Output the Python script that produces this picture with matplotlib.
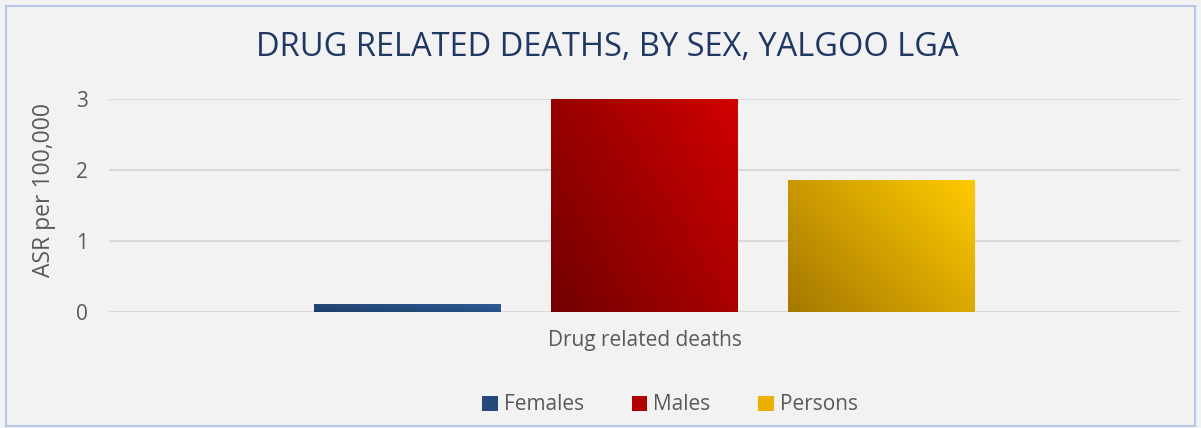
import numpy as np
import matplotlib
matplotlib.use('Agg')
import matplotlib.pyplot as plt
from matplotlib.patches import Rectangle, Patch
from matplotlib.colors import LinearSegmentedColormap

plt.rcParams['font.family'] = ['Open Sans', 'DejaVu Sans']

# data
category = 'Drug related deaths'
series = ['Females', 'Males', 'Persons']
values = [0.1, 3.0, 1.85]
yticks = [0, 1, 2, 3]

# gradient colours (dark bottom-left -> light top-right)
grad = {
    'Females': ('#1E3E68', '#2D5C96'),
    'Males': ('#720000', '#D00000'),
    'Persons': ('#A67800', '#FFCA00'),
}
legend_col = {'Females': '#25497A', 'Males': '#B00000', 'Persons': '#EBB000'}

bg = '#F2F2F2'
fig = plt.figure(figsize=(12.01, 4.28), dpi=100, facecolor=bg)
fig.patches.append(Rectangle((0.005, 0.005), 0.99, 0.98, transform=fig.transFigure,
                             fill=False, edgecolor='#B4C7E7', linewidth=1.5))

ax = fig.add_axes([109 / 1201, 1 - 312 / 428, 1071 / 1201, 213 / 428])
ax.set_facecolor(bg)

width = 0.1746
step = 0.2213
xs = (np.arange(len(series)) - 1) * step

gx, gy = np.meshgrid(np.linspace(0, 1, 60), np.linspace(0, 1, 60))
t = (gx * 0.6 + gy * 0.4)
for name, x, v in zip(series, xs, values):
    cmap = LinearSegmentedColormap.from_list(name, grad[name])
    ax.imshow(t, cmap=cmap, extent=(x - width / 2, x + width / 2, 0, v),
              origin='lower', aspect='auto', zorder=3, vmin=0, vmax=1)

ax.set_aspect('auto')
ax.set_xlim(-0.5, 0.5)
ax.set_ylim(0, 3)

ax.set_yticks(yticks)
ax.set_yticklabels([str(y) for y in yticks], fontsize=15, color='#595959')
ax.tick_params(axis='y', length=0, pad=15)
ax.set_xticks([0])
ax.set_xticklabels([category], fontsize=15, color='#595959')
ax.tick_params(axis='x', length=0, pad=13)
for y in yticks:
    ax.axhline(y, color='#D9D9D9', linewidth=1.5, zorder=1)
for s in ax.spines.values():
    s.set_visible(False)

fig.text(44 / 1201, 1 - 190 / 428, 'ASR per 100,000', rotation=90, fontsize=16.5,
         color='#595959', ha='center', va='center')
fig.text(607 / 1201, 1 - 47 / 428, 'DRUG RELATED DEATHS, BY SEX, YALGOO LGA',
         fontsize=23.5, color='#1F3864', ha='center', va='center')

handles = [Patch(facecolor=legend_col[s], label=s) for s in series]
fig.legend(handles=handles, loc='center', bbox_to_anchor=(670 / 1201, 1 - 405 / 428),
           ncol=3, frameon=False, fontsize=15, labelcolor='#595959',
           handlelength=0.75, handleheight=0.75, handletextpad=0.3, columnspacing=2.27)

fig.savefig('out.png', dpi=100, facecolor=bg)
